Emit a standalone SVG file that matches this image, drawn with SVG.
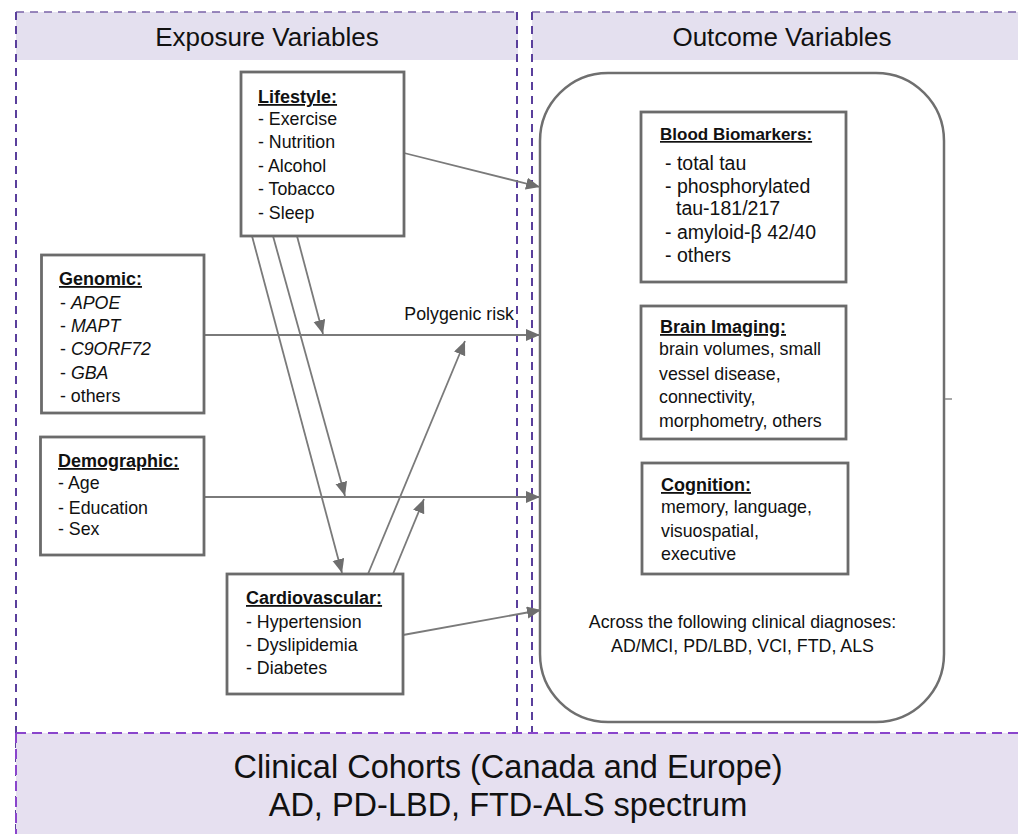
<svg xmlns="http://www.w3.org/2000/svg" width="1018" height="834" viewBox="0 0 1018 834">
<defs>
<marker id="arr" markerUnits="userSpaceOnUse" markerWidth="15" markerHeight="13" refX="14" refY="6" orient="auto">
<path d="M0,0 L14,6 L0,12 z" fill="#6e6e6e"/>
</marker>
<style>
text{font-family:"Liberation Sans",Arial,sans-serif;fill:#111}
.box{fill:#fff;stroke:#6b6b6b;stroke-width:2.8}
.t{font-size:18px;font-weight:bold;text-decoration:underline}
.i{font-size:17.8px}
.ib{font-size:19.5px}
.hd{font-size:26px;text-anchor:middle}
.bt{font-size:32.5px;text-anchor:middle}
.dv{stroke:#5a3f9c;stroke-width:2;stroke-dasharray:8 6;fill:none}
.dh{stroke:#7a63a8;stroke-width:1.5;stroke-dasharray:8 6;fill:none}
.db{stroke:#8a45cc;stroke-width:2;stroke-dasharray:10 6;fill:none}
.c{stroke:#7a7a7a;stroke-width:1.8;fill:none;marker-end:url(#arr)}
</style>
</defs>
<rect width="1018" height="834" fill="#fff"/>
<!-- panels -->
<g id="panel-exposure">
<rect x="16" y="12" width="502" height="48" fill="#e4e0ef"/>
<path class="dh" d="M16,12 H517"/>
<path class="dv" d="M16,12 V834"/>
<path class="dv" d="M517,12 V733"/>
<text class="hd" x="267" y="46">Exposure Variables</text>
</g>
<g id="panel-outcome">
<rect x="532" y="12" width="486" height="48" fill="#e4e0ef"/>
<path class="dh" d="M532,12 H1018"/>
<path class="dv" d="M532,12 V733"/>
<text class="hd" x="782" y="46">Outcome Variables</text>
</g>
<g id="cohorts">
<rect x="16" y="733" width="1002" height="101" fill="#e6e0f0"/>
<path class="db" d="M16,733 H1018"/>
<path class="db" d="M16,733 V834"/>
<text class="bt" x="508" y="778">Clinical Cohorts (Canada and Europe)</text>
<text class="bt" x="508" y="816">AD, PD-LBD, FTD-ALS spectrum</text>
</g>
<!-- outcome container -->
<g id="outcome-container">
<rect x="540" y="73" width="404" height="649" rx="68" ry="68" fill="#fff" stroke="#6f6f6f" stroke-width="2.5"/>
<path d="M945,399 H952" stroke="#8a8a8a" stroke-width="1.5"/>
<text class="i" x="742.5" y="628" text-anchor="middle">Across the following clinical diagnoses:</text>
<text class="i" x="742.5" y="652" text-anchor="middle">AD/MCI, PD/LBD, VCI, FTD, ALS</text>
</g>
<!-- connectors -->
<g id="connectors">
<line class="c" x1="404" y1="153" x2="540" y2="187"/>
<line class="c" x1="204" y1="335" x2="540" y2="335"/>
<line class="c" x1="204" y1="497" x2="540" y2="497"/>
<line class="c" x1="403" y1="635" x2="541" y2="610"/>
<line class="c" x1="252" y1="236" x2="342" y2="573"/>
<line class="c" x1="273" y1="236" x2="345" y2="496"/>
<line class="c" x1="297" y1="236" x2="323" y2="334"/>
<line class="c" x1="368" y1="574" x2="465" y2="341"/>
<line class="c" x1="393" y1="574" x2="424" y2="499"/>
<text class="i" x="514" y="320" text-anchor="end">Polygenic risk</text>
</g>
<!-- nodes -->
<g id="lifestyle">
<rect class="box" x="241" y="72" width="163" height="164"/>
<text class="t" x="258" y="103">Lifestyle:</text>
<text class="i" x="258" y="124.5">- Exercise</text>
<text class="i" x="258" y="148">- Nutrition</text>
<text class="i" x="258" y="171.5">- Alcohol</text>
<text class="i" x="258" y="195">- Tobacco</text>
<text class="i" x="258" y="218.5">- Sleep</text>
</g>
<g id="genomic">
<rect class="box" x="41.5" y="255" width="162.5" height="158"/>
<text class="t" x="59" y="285">Genomic:</text>
<text class="i" x="60" y="308.5">- <tspan font-style="italic">APOE</tspan></text>
<text class="i" x="60" y="332">- <tspan font-style="italic">MAPT</tspan></text>
<text class="i" x="60" y="355">- <tspan font-style="italic">C9ORF72</tspan></text>
<text class="i" x="60" y="378.5">- <tspan font-style="italic">GBA</tspan></text>
<text class="i" x="60" y="402">- others</text>
</g>
<g id="demographic">
<rect class="box" x="40.5" y="437" width="163.5" height="118"/>
<text class="t" x="58" y="467">Demographic:</text>
<text class="i" x="58" y="488.5">- Age</text>
<text class="i" x="58" y="514">- Education</text>
<text class="i" x="58" y="535">- Sex</text>
</g>
<g id="cardiovascular">
<rect class="box" x="227" y="574" width="176" height="120"/>
<text class="t" x="246" y="604">Cardiovascular:</text>
<text class="i" x="246" y="627.5">- Hypertension</text>
<text class="i" x="246" y="651">- Dyslipidemia</text>
<text class="i" x="246" y="673.5">- Diabetes</text>
</g>
<g id="blood-biomarkers">
<rect class="box" x="641" y="112" width="205" height="170"/>
<text class="t" x="660" y="140" style="font-size:17px">Blood Biomarkers:</text>
<text class="ib" x="665" y="169.5">- total tau</text>
<text class="ib" x="665" y="193">- phosphorylated</text>
<text class="ib" x="676" y="215">tau-181/217</text>
<text class="ib" x="665" y="239">- amyloid-β 42/40</text>
<text class="ib" x="665" y="262">- others</text>
</g>
<g id="brain-imaging">
<rect class="box" x="641" y="306" width="205" height="133"/>
<text class="t" x="660" y="333">Brain Imaging:</text>
<text class="i" x="659" y="355">brain volumes, small</text>
<text class="i" x="659" y="380">vessel disease,</text>
<text class="i" x="659" y="403">connectivity,</text>
<text class="i" x="659" y="427">morphometry, others</text>
</g>
<g id="cognition">
<rect class="box" x="642" y="463" width="206" height="111"/>
<text class="t" x="661" y="491">Cognition:</text>
<text class="i" x="661" y="513">memory, language,</text>
<text class="i" x="661" y="537">visuospatial,</text>
<text class="i" x="661" y="559.5">executive</text>
</g>
</svg>
